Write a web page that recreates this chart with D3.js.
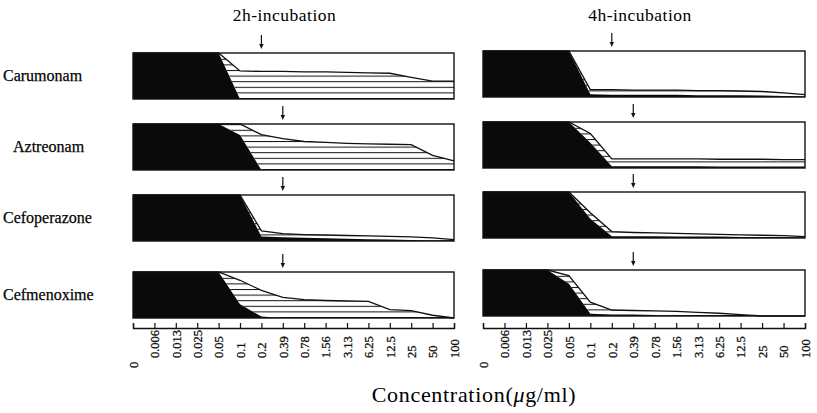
<!DOCTYPE html>
<html>
<head>
<meta charset="utf-8">
<script src="https://cdn.jsdelivr.net/npm/d3@7"></script>
<style>
  body { margin: 0; background: #fff; }
  svg { display: block; font-family: "Liberation Serif", "Times New Roman", serif; }
</style>
</head>
<body>
<svg id="chart" width="817" height="413"></svg>
<script>
// concentrations on the x axis (two-fold dilution steps)
const concLabels = ["0", "0.006", "0.013", "0.025", "0.05", "0.1", "0.2", "0.39", "0.78",
  "1.56", "3.13", "6.25", "12.5", "25", "50", "100"];
const drugs = ["Carumonam", "Aztreonam", "Cefoperazone", "Cefmenoxime"];
const incubations = ["2h-incubation", "4h-incubation"];
const micLabels = ["0.2", "0.39", "0.39", "0.39"]; // arrows

// % of panel height, black = solid part, hatched = stacked on top of it
const carumonam2hBlack   = [100, 100, 100, 100, 100, 0, 0, 0, 0, 0, 0, 0, 0, 0, 0, 0];
const carumonam2hHatched = [0, 0, 0, 0, 0, 61, 60, 60, 59, 59, 58, 57, 56, 47, 39, 39];
const carumonam4hBlack   = [100, 100, 100, 100, 100, 6, 5, 5, 5, 5, 4, 4, 4, 3, 2, 1];
const carumonam4hHatched = [0, 0, 0, 0, 0, 10, 11, 10, 10, 10, 10, 10, 9, 9, 7, 4];

const aztreonam2hBlack   = [100, 100, 100, 100, 100, 76, 0, 0, 0, 0, 0, 0, 0, 0, 0, 0];
const aztreonam2hHatched = [0, 0, 0, 0, 0, 24, 77, 68, 62, 60, 58, 57, 56, 55, 32, 20];
const aztreonam4hBlack   = [100, 100, 100, 100, 100, 55, 4, 4, 4, 4, 4, 3, 3, 3, 3, 3];
const aztreonam4hHatched = [0, 0, 0, 0, 0, 20, 16, 16, 16, 16, 16, 16, 16, 16, 15, 15];

const cefoperazone2hBlack   = [100, 100, 100, 100, 100, 100, 10, 8, 7, 6, 5, 4, 3, 2, 1, 0];
const cefoperazone2hHatched = [0, 0, 0, 0, 0, 0, 12, 8, 7, 7, 7, 7, 7, 7, 6, 3];
const cefoperazone4hBlack   = [100, 100, 100, 100, 100, 42, 4, 4, 4, 3, 3, 3, 2, 2, 2, 1];
const cefoperazone4hHatched = [0, 0, 0, 0, 0, 13, 10, 8, 7, 7, 6, 5, 5, 4, 3, 2];

const cefmenoxime2hBlack   = [100, 100, 100, 100, 100, 30, 3, 0, 0, 0, 0, 0, 0, 0, 0, 0];
const cefmenoxime2hHatched = [0, 0, 0, 0, 0, 52, 57, 45, 40, 38, 37, 36, 18, 16, 6, 0];
const cefmenoxime4hBlack   = [100, 100, 100, 100, 70, 5, 3, 3, 2, 0, 0, 0, 0, 0, 0, 0];
const cefmenoxime4hHatched = [0, 0, 0, 0, 18, 25, 10, 9, 9, 10, 8, 6, 3, 0, 0, 0];

// [drug][incubation]
const panels = [
  [[carumonam2hBlack, carumonam2hHatched], [carumonam4hBlack, carumonam4hHatched]],
  [[aztreonam2hBlack, aztreonam2hHatched], [aztreonam4hBlack, aztreonam4hHatched]],
  [[cefoperazone2hBlack, cefoperazone2hHatched], [cefoperazone4hBlack, cefoperazone4hHatched]],
  [[cefmenoxime2hBlack, cefmenoxime2hHatched], [cefmenoxime4hBlack, cefmenoxime4hHatched]]
];

// layout
const colRange = [[133, 454], [483, 805]];
const rowTops = [[53, 124, 195, 272], [51, 122, 192, 270]];
const panelH = 46;
const axisY = 328;

const svg = d3.select("#chart");
const defs = svg.append("defs");

const stack = d3.stack().keys(["black", "hatched"]);

incubations.forEach((title, c) => {
  const x = d3.scalePoint().domain(concLabels).range(colRange[c]);
  const mid = (colRange[c][0] + colRange[c][1]) / 2;

  svg.append("text")
    .attr("x", mid - 9 + c * 5)
    .attr("y", 21)
    .attr("text-anchor", "middle")
    .style("font-size", "17.5px")
    .style("letter-spacing", "0.5px")
    .text(title);

  drugs.forEach((drug, r) => {
    const top = rowTops[c][r];
    const y = d3.scaleLinear().domain([0, 100]).range([top + panelH, top]);
    const [blackVals, hatchedVals] = panels[r][c];
    const rows = concLabels.map((lab, i) => ({ lab, black: blackVals[i], hatched: hatchedVals[i] }));
    const series = stack(rows);

    const pid = `hatch-${r}-${c}`;
    const pat = defs.append("pattern")
      .attr("id", pid)
      .attr("patternUnits", "userSpaceOnUse")
      .attr("x", 0).attr("y", top + panelH - 1)
      .attr("width", 10).attr("height", 5.6);
    pat.append("rect").attr("width", 10).attr("height", 5.6).attr("fill", "#fff");
    pat.append("line")
      .attr("x1", 0).attr("x2", 10).attr("y1", 0.5).attr("y2", 0.5)
      .attr("stroke", "#111").attr("stroke-width", 1);

    const g = svg.append("g");
    const x0 = x(concLabels[0]), x1 = x(concLabels[concLabels.length - 1]);

    g.append("rect")
      .attr("x", x0).attr("y", top)
      .attr("width", x1 - x0).attr("height", panelH)
      .attr("fill", "#fff");

    const area = d3.area()
      .x(d => x(d.data.lab))
      .y0(d => y(d[0]))
      .y1(d => y(d[1]));

    g.append("path")
      .datum(series[1])
      .attr("d", area)
      .attr("fill", `url(#${pid})`);

    g.append("path")
      .datum(series[0])
      .attr("d", area)
      .attr("fill", "#0a0a0a");

    g.append("path")
      .datum(series[1])
      .attr("d", d3.line().x(d => x(d.data.lab)).y(d => y(d[1])))
      .attr("fill", "none")
      .attr("stroke", "#111")
      .attr("stroke-width", 1.3);

    g.append("rect")
      .attr("x", x0).attr("y", top)
      .attr("width", x1 - x0).attr("height", panelH)
      .attr("fill", "none")
      .attr("stroke", "#111")
      .attr("stroke-width", 1.4);

    // MIC arrow
    const ax = x(micLabels[r]);
    g.append("line")
      .attr("x1", ax).attr("x2", ax)
      .attr("y1", top - 18).attr("y2", top - 7)
      .attr("stroke", "#111").attr("stroke-width", 1.2);
    g.append("path")
      .attr("d", `M${ax - 2.2},${top - 9}L${ax + 2.2},${top - 9}L${ax},${top - 4}Z`)
      .attr("fill", "#111");

    if (c === 0) {
      svg.append("text")
        .attr("x", drug === "Aztreonam" ? 13 : 3)
        .attr("y", top + panelH / 2 + 5)
        .style("font-size", "16px")
        .style("stroke", "#111")
        .style("stroke-width", 0.25)
        .text(drug);
    }
  });

  // concentration axis, ticks pointing up, labels rotated
  const axis = svg.append("g")
    .attr("transform", `translate(0,${axisY})`)
    .call(d3.axisBottom(x).tickSizeInner(-5).tickSizeOuter(-5));
  axis.select(".domain").attr("stroke", "#111").attr("stroke-width", 1.4);
  axis.selectAll(".tick line").attr("stroke", "#111").attr("stroke-width", 1.2);
  axis.selectAll(".tick text")
    .attr("transform", "rotate(-90)")
    .attr("text-anchor", "start")
    .attr("x", (d, i) => i === 0 ? -40 : -30)
    .attr("y", 0)
    .attr("dy", "0.35em")
    .attr("fill", "#111")
    .attr("stroke", "#111")
    .attr("stroke-width", 0.3)
    .style("font-family", "'Liberation Serif', serif")
    .style("font-size", "12.5px");
});

const xt = svg.append("text")
  .attr("x", 474)
  .attr("y", 402)
  .attr("text-anchor", "middle")
  .style("font-size", "22px")
  .style("letter-spacing", "0.7px");
xt.append("tspan").text("Concentration(");
xt.append("tspan").style("font-style", "italic").text("μ");
xt.append("tspan").text("g/ml)");
</script>
</body>
</html>
